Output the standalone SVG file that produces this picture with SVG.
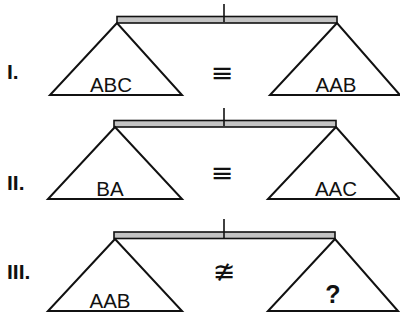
<svg xmlns="http://www.w3.org/2000/svg" width="400" height="322" viewBox="0 0 400 322">
<style>
.beam{fill:#c4c4c4;stroke:#111;stroke-width:1.6}
.tri{fill:#fff;stroke:#111;stroke-width:2;stroke-linejoin:miter}
.tick{stroke:#111;stroke-width:1.6}
.lbl{font-family:"Liberation Sans",Arial,sans-serif;font-size:20.5px;fill:#111;text-anchor:middle}
.num{font-family:"Liberation Sans",Arial,sans-serif;font-size:21px;font-weight:bold;fill:#111}
.sym{font-family:"DejaVu Sans",sans-serif;font-size:27px;fill:#111;text-anchor:middle}
</style>
<rect width="400" height="322" fill="#fff"/>
<g id="row1">
<text class="num" x="7" y="79">I.</text>
<rect class="beam" x="117" y="16.5" width="220" height="6.5"/>
<g id="r1-left"><polygon class="tri" points="117,23 50,95 182,95"/><text class="lbl" x="111" y="92">ABC</text></g>
<g id="r1-right"><polygon class="tri" points="337,23 270,95 400,95"/><text class="lbl" x="336" y="92">AAB</text></g>
<text class="sym" x="222" y="82">≡</text>
</g>
<g id="row2">
<text class="num" x="7" y="190">II.</text>
<rect class="beam" x="114" y="120.5" width="222" height="6.5"/>
<g id="r2-left"><polygon class="tri" points="115,127 48,199 182,199"/><text class="lbl" x="110" y="196">BA</text></g>
<g id="r2-right"><polygon class="tri" points="336,127 268,199 400,199"/><text class="lbl" x="336" y="196">AAC</text></g>
<text class="sym" x="222" y="182">≡</text>
</g>
<g id="row3">
<text class="num" x="7" y="279">III.</text>
<rect class="beam" x="114" y="232" width="221" height="6.5"/>
<g id="r3-left"><polygon class="tri" points="115,239 48,311 182,311"/><text class="lbl" x="110" y="308">AAB</text></g>
<g id="r3-right"><polygon class="tri" points="335,239 268,311 398,311"/><text class="lbl" x="333" y="303" style="font-weight:bold;font-size:25px">?</text></g>
<text class="sym" x="224" y="281">≇</text>
</g>
<g id="connectors">
<line class="tick" x1="224" y1="4" x2="224" y2="22"/>
<line class="tick" x1="224" y1="108" x2="224" y2="126"/>
<line class="tick" x1="224" y1="219" x2="224" y2="238"/>
</g>
</svg>
